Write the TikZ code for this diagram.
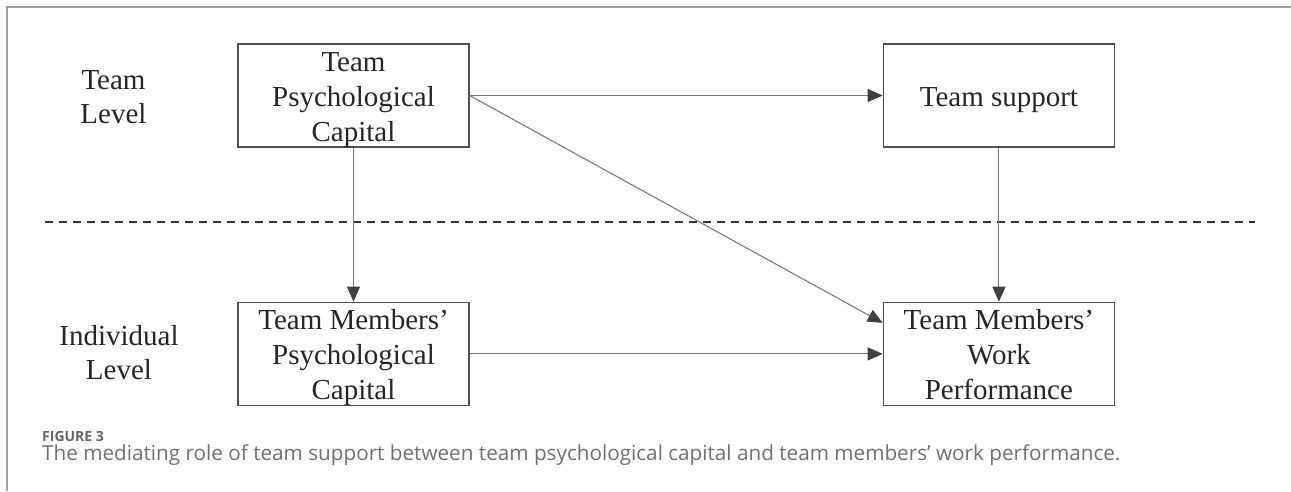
\documentclass[tikz,border=0pt]{standalone}
\usepackage{fontspec}
\setmainfont{Liberation Serif}
\newfontfamily\captionfont{Open Sans}
\usetikzlibrary{positioning, arrows.meta}
\usepackage{xcolor}
\definecolor{boxgray}{HTML}{505050}
\definecolor{linegray}{HTML}{7A7A7A}
\definecolor{tipgray}{HTML}{404040}
\definecolor{framegray}{HTML}{A0A0A0}
\definecolor{captiongray}{HTML}{707070}
% box text sits a little below the middle of its box
\newcommand{\boxtext}[1]{\raisebox{-10pt}[0pt][0pt]{\begin{tabular}{@{}c@{}}#1\end{tabular}}}

\begin{document}
\begin{tikzpicture}[
    x=1pt, y=-1pt,
    node distance=154pt and 413pt,
    % Boxes for the constructs
    construct/.style={draw=boxgray, line width=1.4pt, minimum width=231pt, minimum height=103pt,
        inner sep=0pt, font=\fontsize{29}{35}\selectfont, text=black!85},
    % Level names on the left
    levellabel/.style={align=center, font=\fontsize{29}{34}\selectfont, text=black!85},
    % Arrow style
    arrow/.style={-{Triangle[length=15pt, width=13pt, color=tipgray]}, draw=linegray, line width=1.1pt},
    % Divider between the levels
    divider/.style={draw=black!80, line width=2pt, dash pattern=on 8pt off 6pt},
    % Caption
    capfig/.style={anchor=base west, inner sep=0pt, font=\captionfont\bfseries\fontsize{14}{17}\selectfont, text=captiongray!90!black},
    captext/.style={anchor=base west, inner sep=0pt, font=\captionfont\fontsize{20.7}{24}\selectfont, text=captiongray},
]
\useasboundingbox (0,0) rectangle (1291,491);

% Frame of the figure
\draw[framegray, line width=1.5pt] (7,491) -- (7,7) -- (1291,7);

% Team level
\node[construct] (teampc) at (353.5,95.5) {\boxtext{Team\\Psychological\\Capital}};
\node[construct, right=of teampc] (support) {\boxtext{Team support}};

% Individual level
\node[construct, below=of teampc] (memberpc) {\boxtext{Team Members’\\Psychological\\Capital}};
\node[construct, below=of support] (performance) {\boxtext{Team Members’\\Work\\Performance}};

% Level names
\node[levellabel] (teamlevel) at (113.5,97) {Team\\Level};
\node[levellabel] (indlevel) at (119,353) {Individual\\Level};

% Divider
\coordinate (divleft) at (45,222);
\coordinate (divright) at (1255,222);
\draw[divider] (divleft) -- (divright);

% Paths
\draw[arrow] (teampc) -- (support);
\draw[arrow] (teampc.east) -- ([yshift=31pt]performance.west);
\draw[arrow] (teampc) -- (memberpc);
\draw[arrow] (support) -- (performance);
\draw[arrow] (memberpc) -- (performance);

% Caption
\node[capfig] (figno) at (42,441) {FIGURE 3};
\node[captext] (figcap) at (42,460) {The mediating role of team support between team psychological capital and team members’ work performance.};

\end{tikzpicture}
\end{document}
